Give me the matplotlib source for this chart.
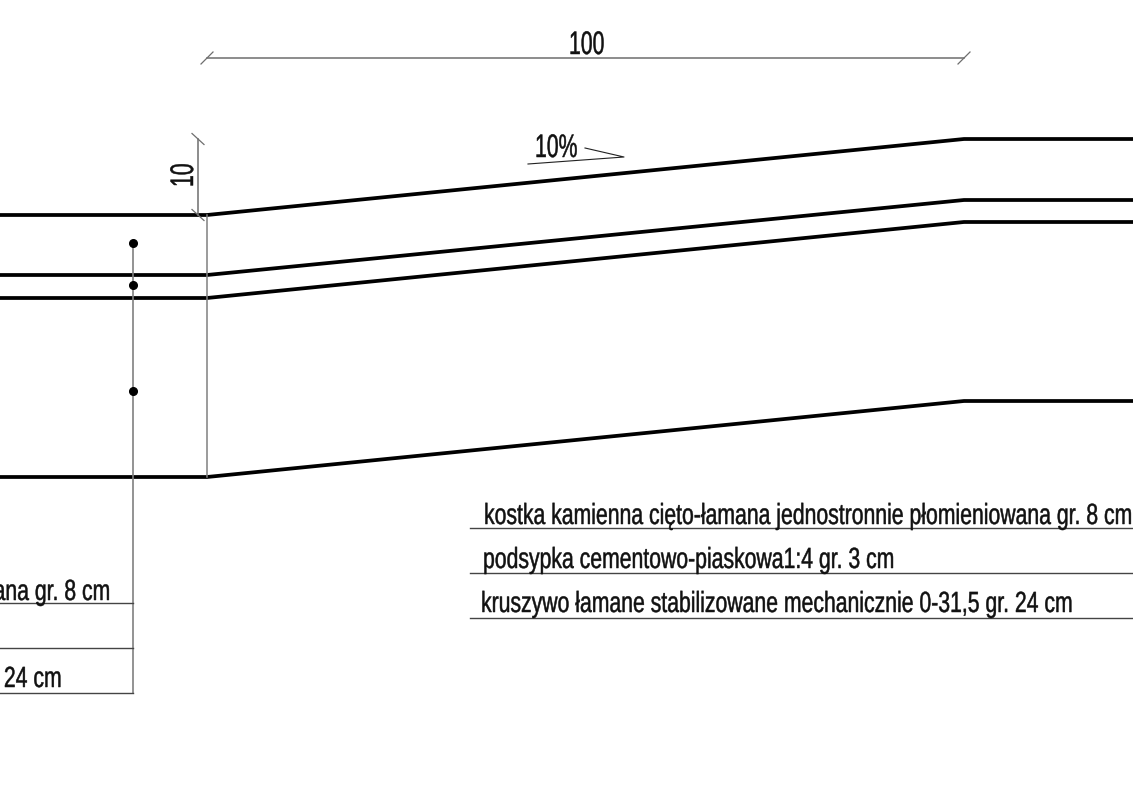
import matplotlib
matplotlib.use('Agg')
import matplotlib.pyplot as plt
from matplotlib.patheffects import AbstractPathEffect
from matplotlib.transforms import Affine2D

plt.rcParams['font.family'] = ['Liberation Sans', 'DejaVu Sans']

# layer profiles, drawing units (px)
profile_x = [-10, 207, 964, 1143]
top_y = [215, 215, 139, 139]
layer2_y = [275, 275, 200, 200]
layer3_y = [298, 298, 222, 222]
bottom_y = [477, 477, 401, 401]
profiles = [top_y, layer2_y, layer3_y, bottom_y]

layer_labels = [
    'kostka kamienna cięto-łamana jednostronnie płomieniowana gr. 8 cm',
    'podsypka cementowo-piaskowa1:4 gr. 3 cm',
    'kruszywo łamane stabilizowane mechanicznie 0-31,5 gr. 24 cm',
]
label_x = [484, 483, 481]
label_y = [524, 568, 612]
leader_y = [528, 573, 618]
left_label_x = [-538, -539, -530]
left_label_y = [600, 645, 687]
left_leader_y = [603, 648, 693]
dot_y = [243, 285, 391]


# no condensed font installed, so squeeze the glyphs sideways
class Narrow(AbstractPathEffect):
    def __init__(self, sx, bold=0.35):
        super().__init__()
        self.sx = sx
        self.bold = bold

    def draw_path(self, renderer, gc, tpath, affine, rgbFace=None):
        gc.set_linewidth(self.bold)
        renderer.draw_path(gc, tpath, Affine2D().scale(self.sx, 1) + affine, rgbFace)


fig = plt.figure(figsize=(1133 / 100, 809 / 100), dpi=100)
ax = fig.add_axes([0, 0, 1, 1])
ax.set_xlim(0, 1133)
ax.set_ylim(809, 0)
ax.axis('off')

ink = '#111111'
grey = '#6e6e6e'
dim_fx = [Narrow(0.65)]
label_fx = [Narrow(0.727)]

for y in profiles:
    ax.plot(profile_x, y, color='black', lw=2.7, solid_joinstyle='miter')

# horizontal dimension 100
ax.plot([207, 964], [58, 58], color=grey, lw=1.1)
for x in [207, 964]:
    ax.plot([x - 6, x + 6], [64, 52], color=grey, lw=0.9)
ax.text(569, 54, '100', fontsize=23.5, ha='left', va='baseline', color=ink, path_effects=dim_fx)

# vertical dimension 10
ax.plot([198, 198], [139, 215], color=grey, lw=1.1)
for y in [139, 215]:
    ax.plot([192, 204], [y - 5.5, y + 5.5], color=grey, lw=0.9)
ax.text(193, 187, '10', fontsize=23.5, rotation=90, rotation_mode='anchor',
        ha='left', va='baseline', color=ink, path_effects=dim_fx)

# slope mark
ax.plot([528, 624, 585], [164, 157, 148], color='#222222', lw=0.8)
ax.text(535, 157, '10%', fontsize=23.5, ha='left', va='baseline', color=ink, path_effects=dim_fx)

# section line and leader with dots
ax.plot([207, 207], [215, 477], color='#808080', lw=1.1)
ax.plot([133, 133], [dot_y[0], left_leader_y[2]], color='#808080', lw=1.2)
ax.plot([133] * 3, dot_y, 'o', color='black', ms=5.5)

# leaders and labels on the right
for y in leader_y:
    ax.plot([470, 1133], [y, y], color='#444444', lw=1.0)
for x, y, s in zip(label_x, label_y, layer_labels):
    ax.text(x, y, s, fontsize=21, ha='left', va='baseline', color=ink, path_effects=label_fx)

# same leaders on the left, cut by the page edge
for y in left_leader_y:
    ax.plot([-10, 133], [y, y], color='#444444', lw=1.0)
for x, y, s in zip(left_label_x, left_label_y, layer_labels):
    ax.text(x, y, s, fontsize=21, ha='left', va='baseline', color=ink, clip_on=True, path_effects=label_fx)

fig.savefig('out.png', dpi=100, facecolor='white')
